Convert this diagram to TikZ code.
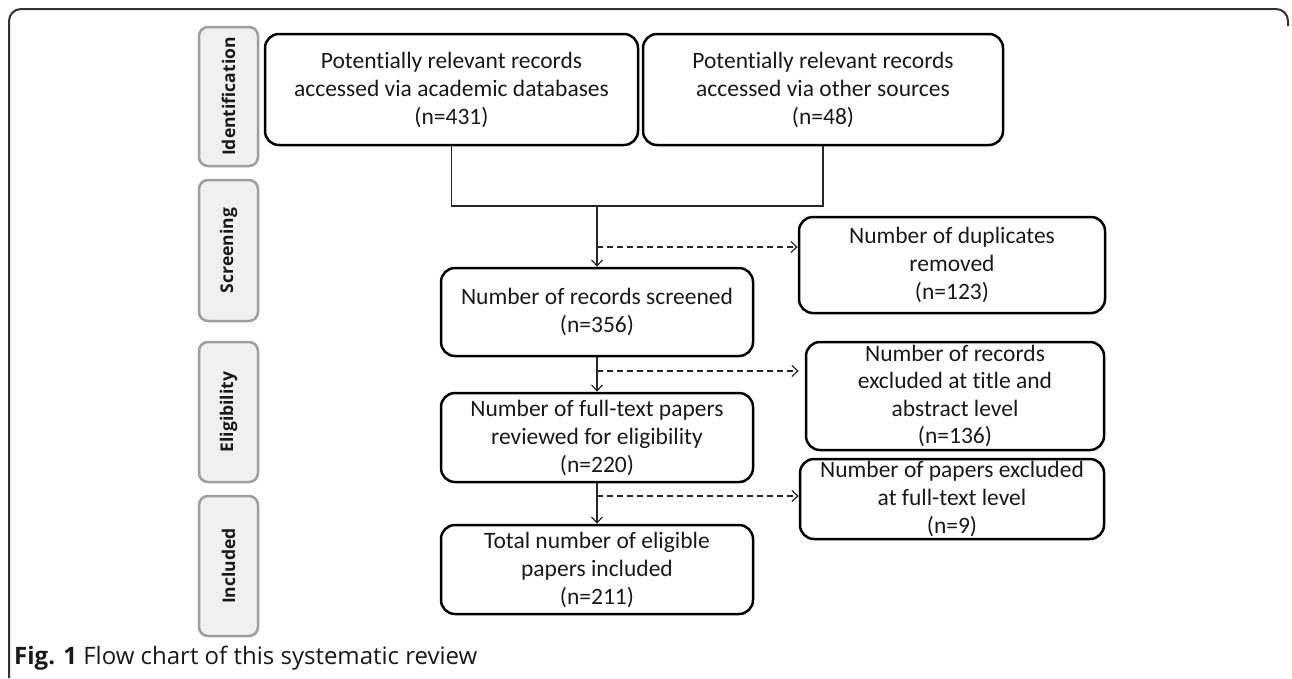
\documentclass[tikz,border=0pt]{standalone}
\usepackage{fontspec}
\setmainfont[Ligatures=NoCommon]{Carlito}
\newfontfamily\osans{Open Sans}
\usetikzlibrary{arrows.meta,calc}
\begin{document}
\begin{tikzpicture}[x=1pt,y=-1pt,
  box/.style={draw=black, line width=2.5pt, rounded corners=14pt, inner sep=0pt},
  txt/.style={align=center, inner sep=0pt, text=black!90, font=\fontsize{23.5}{28}\selectfont},
  lab/.style={draw=black!38, fill=black!6, line width=2.5pt, rounded corners=9pt,
              rotate=90, minimum height=59pt, inner sep=0pt, text=black!90,
              font=\osans\bfseries\fontsize{17.5}{20}\selectfont},
  conn/.style={draw=black!85, line width=1.2pt},
  arr/.style={-{Straight Barb[length=6pt,width=11pt]}},
  dconn/.style={conn, dash pattern=on 6pt off 4pt}
]
\useasboundingbox (0,0) rectangle (1292,678);

% outer frame
\draw[line width=2pt, black!80, rounded corners=12pt] (9,678) -- (9,9) -- (1288,9) -- (1288,26);

% stage labels
\node[lab, minimum width=139pt] (lid) at (228.5,96.5) {Identification};
\node[lab, minimum width=141pt] (lsc) at (228.5,250.5) {Screening};
\node[lab, minimum width=140pt] (lel) at (228.5,412) {Eligibility};
\node[lab, minimum width=140pt] (lin) at (228.5,566) {Included};

% main boxes
\node[box, minimum width=373pt, minimum height=111pt] (b1) at (451.5,89.5) {};
\node[txt] (t1) at (b1) {Potentially relevant records\\accessed via academic databases\\(n=431)};
\node[box, minimum width=360pt, minimum height=111pt] (b2) at (823,89.5) {};
\node[txt] (t2) at (b2) {Potentially relevant records\\accessed via other sources\\(n=48)};
\node[box, minimum width=312pt, minimum height=88pt] (b3) at (597,312) {};
\node[txt] (t3) at (b3) {Number of records screened\\(n=356)};
\node[box, minimum width=312pt, minimum height=89pt] (b4) at (597,437.5) {};
\node[txt] (t4) at (b4) {Number of full-text papers\\reviewed for eligibility\\(n=220)};
\node[box, minimum width=312pt, minimum height=89pt] (b5) at (597,569.5) {};
\node[txt] (t5) at (b5) {Total number of eligible\\papers included\\(n=211)};

% exclusion boxes
\node[box, minimum width=306pt, minimum height=96pt] (e1) at (952,265) {};
\node[txt] (te1) at (e1) {Number of duplicates\\removed\\(n=123)};
\node[box, minimum width=298pt, minimum height=108pt] (e2) at (955,396) {};
\node[txt, font=\fontsize{23.5}{27.2}\selectfont] (te2) at (e2) {Number of records\\excluded at title and\\abstract level\\(n=136)};
\node[box, minimum width=304pt, minimum height=80pt] (e3) at (952,499) {};
\node[txt] (te3) at (e3) {Number of papers excluded\\at full-text level\\(n=9)};

% connectors
\coordinate (m) at (597,206);
\draw[conn] (b1.south) |- (m) -| (b2.south);
\draw[conn, arr] (m) -- (b3.north);
\draw[conn, arr] (b3.south) -- (b4.north);
\draw[conn, arr] (b4.south) -- (b5.north);

\coordinate (d1) at (597,247);
\coordinate (d2) at (597,371);
\coordinate (d3) at (597,496);
\draw[dconn, arr] (d1) -- (d1 -| e1.west);
\draw[dconn, arr, shorten >=6pt] (d2) -- (d2 -| e2.west);
\draw[dconn, arr] (d3) -- (d3 -| e3.west);

% caption
\node[anchor=base west, inner sep=0pt, text=black!90, font=\osans\fontsize{24}{28}\selectfont] (cap) at (14,664) {\textbf{Fig. 1} Flow chart of this systematic review};
\end{tikzpicture}
\end{document}
